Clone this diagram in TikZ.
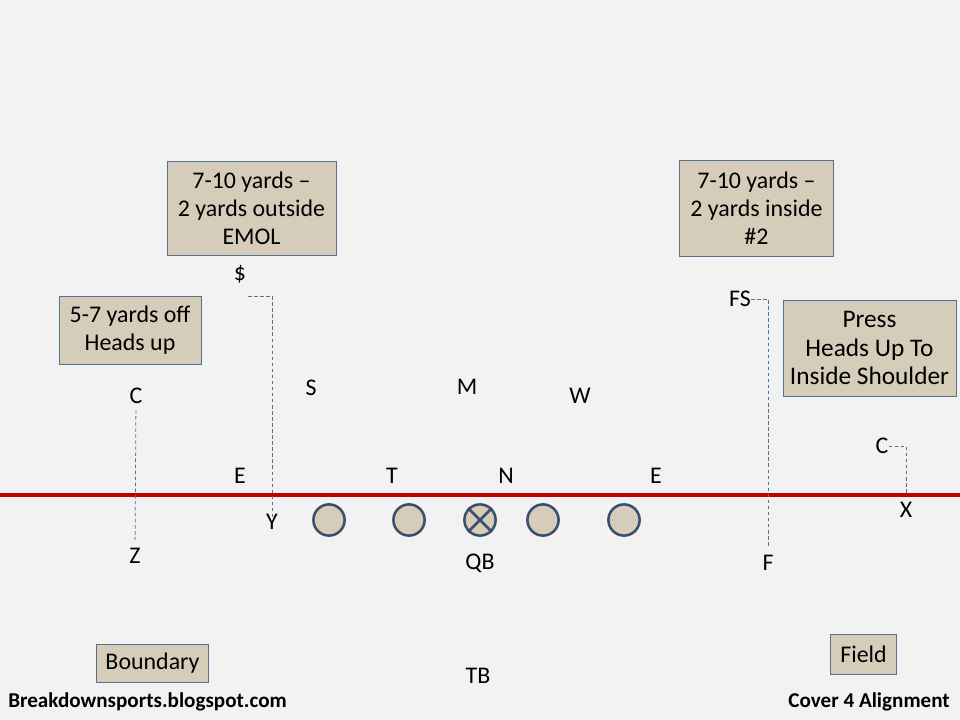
\documentclass[tikz,border=0pt]{standalone}
\usepackage{fontspec}
\setmainfont{Carlito}
\usetikzlibrary{positioning}
\definecolor{bgcol}{HTML}{F2F2F2}
\definecolor{tancol}{HTML}{D5CDBA}
\definecolor{edgecol}{HTML}{56708F}
\definecolor{olcol}{HTML}{3A4F6E}
\definecolor{loscol}{HTML}{C00000}
\tikzstyle{note} = [rectangle, draw=edgecol, fill=tancol, line width=0.6pt, align=center, inner sep=2pt, font=\fontsize{17}{20}\selectfont]
\tikzstyle{player} = [inner sep=0pt, font=\fontsize{17}{20}\selectfont]
\tikzstyle{lineman} = [circle, draw=olcol, fill=tancol, line width=1.8pt, minimum size=0.78cm, inner sep=0pt]
\tikzstyle{route} = [draw=edgecol, dashed, dash pattern=on 2.5pt off 1.8pt, line width=0.55pt]
\tikzstyle{credit} = [inner sep=0pt, font=\fontsize{15}{18}\selectfont\bfseries]

\begin{document}
\begin{tikzpicture}[x=0.025cm, y=-0.025cm]
				\fill[bgcol] (0,0) rectangle (960,720);
				\useasboundingbox (0,0) rectangle (960,720);
				% notes
				\node (noteS) [note, minimum width=4.22cm, minimum height=2.37cm] at (251.5,208.5) {7-10 yards --\\2 yards outside\\EMOL};
				\node (noteF) [note, minimum width=3.83cm, minimum height=2.4cm] at (756.5,208.5) {7-10 yards --\\2 yards inside\\\#2};
				\node (noteC) [note, minimum width=3.55cm, minimum height=1.7cm] at (130,330) {5-7 yards off\\Heads up};
				\node (notePress) [note, minimum width=4.32cm, minimum height=2.4cm, font=\fontsize{18}{20.6}\selectfont] at (869.5,348) {Press\\Heads Up To\\Inside Shoulder};
				\node (bnd) [note, minimum width=2.82cm, minimum height=0.95cm] at (152.5,663) {Boundary};
				\node (fld) [note, minimum width=1.67cm, minimum height=1cm] at (863.5,654) {Field};
				% line of scrimmage
				\draw[loscol, line width=3pt] (0,495) -- (960,495);
				% defense
				\node (ss) [player] at (240,274) {\$};
				\node (cbL) [player] at (136,396) {C};
				\node (sam) [player] at (311,388) {S};
				\node (mike) [player] at (467,387) {M};
				\node (will) [player] at (580,396) {W};
				\node (fs) [player] at (740,299) {FS};
				\node (cbR) [player] at (882,446) {C};
				\node (endL) [player] at (240,476) {E};
				\node (tck) [player] at (392,476) {T};
				\node (nose) [player] at (506,476) {N};
				\node (endR) [player] at (656,476) {E};
				% offense
				\node (y) [player] at (272,522) {Y};
				\node (x) [player] at (906,510) {X};
				\node (z) [player] at (135,556) {Z};
				\node (qb) [player] at (480,563) {QB};
				\node (f) [player] at (768,563) {F};
				\node (tb) [player] at (478,676) {TB};
				\node (lt) [lineman] at (329,520) {};
				\node (lg) [lineman] at (409,520) {};
				\node (ctr) [lineman] at (480,520) {};
				\node (rg) [lineman] at (543,520) {};
				\node (rt) [lineman] at (624,520) {};
				\draw[olcol, line width=1.8pt] (ctr.north west) -- (ctr.south east) (ctr.north east) -- (ctr.south west);
				% alignment
				\coordinate (ssTop) at (248,296);
				\draw[route] (ssTop) -| ([yshift=-0.12cm]y.north);
				\draw[route, shorten <=0.15cm, shorten >=0.2cm] (cbL) -- (z);
				\draw[route] (fs.east) -| ([yshift=0.2cm]f.north);
				\draw[route] (cbR.east) -| ([yshift=0.2cm]x.north);
				% credits
				\node (site) [credit, anchor=west] at (8,702) {Breakdownsports.blogspot.com};
				\node (title) [credit, anchor=east] at (950,702) {Cover 4 Alignment};
			\end{tikzpicture}
\end{document}
